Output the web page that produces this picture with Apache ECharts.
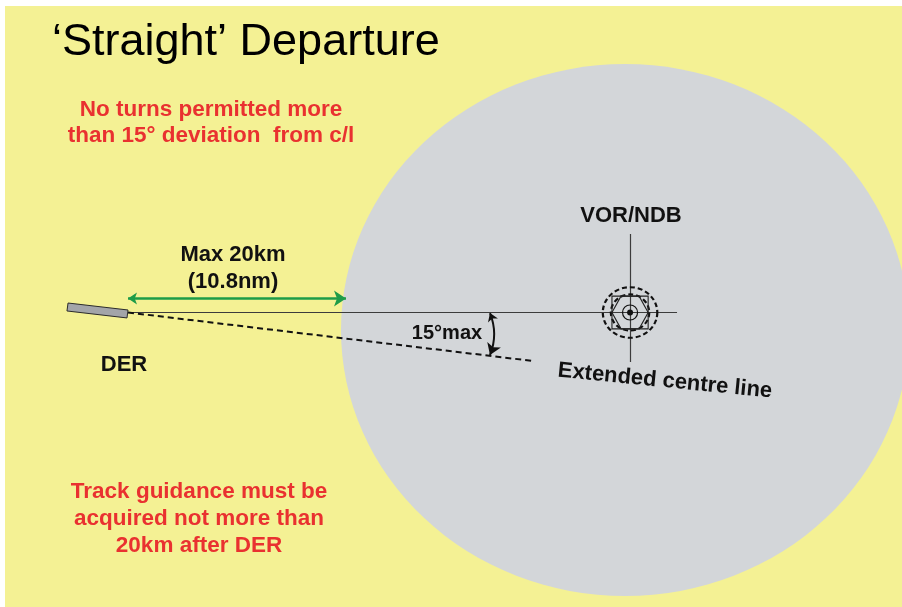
<!DOCTYPE html>
<html>
<head>
<meta charset="utf-8">
<title>'Straight' Departure</title>
<script src="https://cdn.jsdelivr.net/npm/echarts@6/dist/echarts.min.js"></script>
<style>
  html, body { margin: 0; padding: 0; background: #fff; }
  #chart { width: 902px; height: 607px; }
</style>
</head>
<body>
<div id="chart"></div>
<script>
// Geometry in km: origin at the DER, x along the runway centre line
const runway = [[-5.50, 0.87], [0, 0.23], [-0.09, -0.50], [-5.60, 0.14]];
const centreLine = [[0, 0], [50.37, 0]];
const vorAxis = [[46.06, 7.20], [46.06, -4.54]];
const departureTrack = [[0, 0], [37.16, -4.45]];
const guidanceLimit = [[0, 1.28], [20, 1.28]];   // max 20 km
const turnLimit = [[33.21, -0.05], [33.21, -3.90]]; // 15° max
const coverageCentre = [45.60, -1.61];
const coverageRadius = [26.06, 24.40];
const vorPos = [46.06, 0];
const vorRings = [[2.50, 2.32], [1.76, 1.66]];
const vorBox = [1.66, 1.50];
const vorCore = [0.69, 0.275];

const YELLOW = '#F4F194';
const GREY = '#D3D6D9';
const RED = '#E93130';
const FONT = '"Liberation Sans", Arial, sans-serif';

const chart = echarts.init(document.getElementById('chart'));

function lineSeries(coords, style, extra) {
  return Object.assign({
    type: 'lines',
    coordinateSystem: 'cartesian2d',
    silent: true,
    z: 5,
    symbol: 'none',
    data: [{ coords: coords }],
    lineStyle: Object.assign({ opacity: 1 }, style),
  }, extra || {});
}

function txt(x, y, text, font, fill, rot) {
  return {
    type: 'text', x: x, y: y, rotation: rot || 0, z: 100,
    style: {
      text: text, font: font, fill: fill,
      textAlign: 'center', textVerticalAlign: 'middle',
      align: 'center', verticalAlign: 'middle',
    },
  };
}

chart.setOption({
  animation: false,
  backgroundColor: '#fff',
  grid: { left: 5, top: 6, right: 0, bottom: 0, show: true, backgroundColor: YELLOW, borderWidth: 0 },
  xAxis: { type: 'value', min: -11.284, max: 71.009, show: false },
  yAxis: { type: 'value', min: -27.018, max: 28.119, show: false },
  series: [
    {
      // navaid coverage area
      type: 'custom', coordinateSystem: 'cartesian2d', silent: true, clip: false, z: 1,
      data: [[coverageCentre[0], coverageCentre[1], coverageRadius[0], coverageRadius[1]]],
      renderItem: (params, api) => {
        const c = api.coord([api.value(0), api.value(1)]);
        const s = api.size([api.value(2), api.value(3)]);
        return {
          type: 'circle', x: c[0], y: c[1], scaleY: s[1] / s[0],
          shape: { cx: 0, cy: 0, r: s[0] },
          style: { fill: GREY },
        };
      },
    },
    {
      // runway end
      type: 'custom', coordinateSystem: 'cartesian2d', silent: true, clip: false, z: 6,
      data: [[0]],
      renderItem: (params, api) => ({
        type: 'polygon',
        shape: { points: runway.map(p => api.coord(p)) },
        style: { fill: '#A3A5A9', stroke: '#2b2b2b', lineWidth: 1 },
      }),
    },
    lineSeries(centreLine, { color: '#3c3c3c', width: 1.2 }),
    lineSeries(vorAxis, { color: '#3c3c3c', width: 1.2 }),
    lineSeries(departureTrack, { color: '#111', width: 2, type: [6, 4] }),
    lineSeries(guidanceLimit, { color: '#1E9C48', width: 2.5 },
      { symbol: ['arrow', 'arrow'], symbolSize: [9, 12] }),
    lineSeries(turnLimit, { color: '#111', width: 2, curveness: 0.2 },
      { symbol: ['arrow', 'arrow'], symbolSize: [8, 11] }),
    {
      // VOR/NDB symbol
      type: 'custom', coordinateSystem: 'cartesian2d', silent: true, clip: false, z: 7,
      data: [vorPos],
      renderItem: (params, api) => {
        const c = api.coord([api.value(0), api.value(1)]);
        const rings = vorRings.map(r => {
          const s = api.size(r);
          return {
            type: 'circle', x: c[0], y: c[1], scaleY: s[1] / s[0],
            shape: { cx: 0, cy: 0, r: s[0] },
            style: { fill: 'none', stroke: '#111', lineWidth: 2.2, lineDash: [5, 3] },
          };
        });
        const b = api.size(vorBox);
        const core = api.size([vorCore[0], vorCore[0]]);
        const dot = api.size([vorCore[1], vorCore[1]]);
        return {
          type: 'group',
          children: rings.concat([
            {
              type: 'rect',
              shape: { x: c[0] - b[0], y: c[1] - b[1], width: b[0] * 2, height: b[1] * 2 },
              style: { fill: 'none', stroke: '#222', lineWidth: 1.1 },
            },
            {
              type: 'polygon',
              shape: { points: [
                [c[0] - b[0], c[1]], [c[0] - b[0] / 2, c[1] - b[1]], [c[0] + b[0] / 2, c[1] - b[1]],
                [c[0] + b[0], c[1]], [c[0] + b[0] / 2, c[1] + b[1]], [c[0] - b[0] / 2, c[1] + b[1]],
              ] },
              style: { fill: 'none', stroke: '#222', lineWidth: 1.1 },
            },
            { type: 'circle', shape: { cx: c[0], cy: c[1], r: core[0] }, style: { fill: 'none', stroke: '#111', lineWidth: 1.2 } },
            { type: 'circle', shape: { cx: c[0], cy: c[1], r: dot[0] }, style: { fill: '#111' } },
          ]),
        };
      },
    },
  ],
  graphic: [
    {
      type: 'text', left: 52, top: 20, z: 100,
      style: { text: '\u2018Straight\u2019 Departure', font: '45px ' + FONT, fill: '#000' },
    },
    txt(211, 109.5, 'No turns permitted more', 'bold 22.5px ' + FONT, RED),
    txt(211, 135.5, 'than 15\u00b0 deviation  from c/l', 'bold 22.5px ' + FONT, RED),
    txt(199, 492, 'Track guidance must be', 'bold 22.5px ' + FONT, RED),
    txt(199, 519, 'acquired not more than', 'bold 22.5px ' + FONT, RED),
    txt(199, 546, '20km after DER', 'bold 22.5px ' + FONT, RED),
    txt(233, 255, 'Max 20km', 'bold 22px ' + FONT, '#111'),
    txt(233, 282, '(10.8nm)', 'bold 22px ' + FONT, '#111'),
    txt(124, 365, 'DER', 'bold 22px ' + FONT, '#111'),
    txt(631, 216, 'VOR/NDB', 'bold 22px ' + FONT, '#111'),
    txt(447, 333, '15\u00b0max', 'bold 20px ' + FONT, '#111'),
    txt(665, 381, 'Extended centre line', 'bold 22px ' + FONT, '#111', -0.097),
  ],
});

window.addEventListener('resize', () => chart.resize());
</script>
</body>
</html>
